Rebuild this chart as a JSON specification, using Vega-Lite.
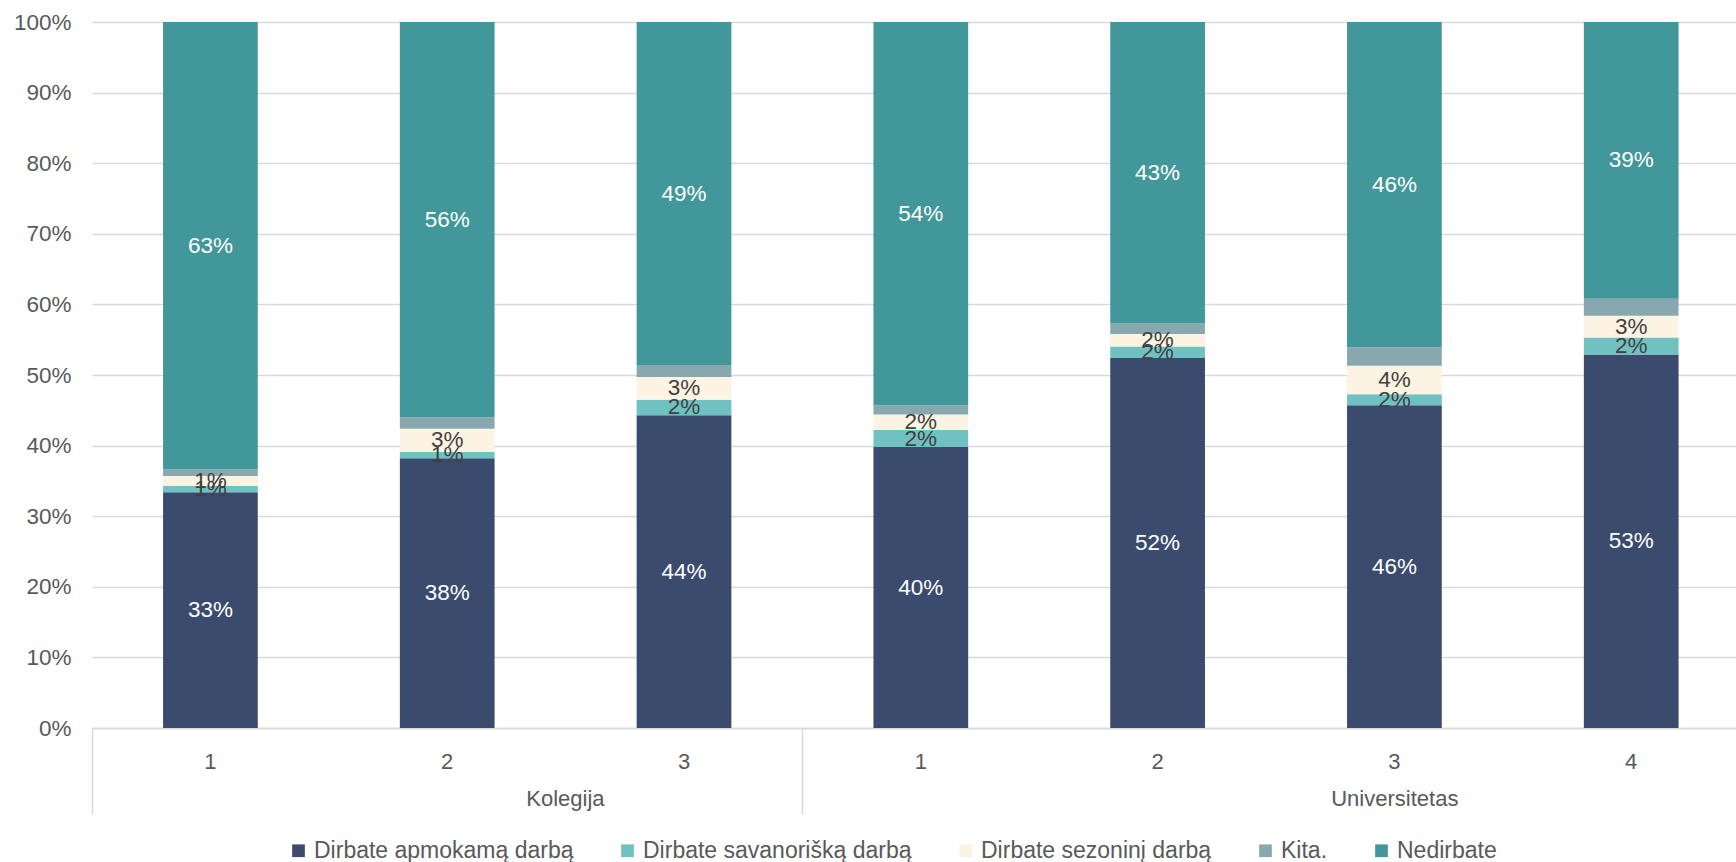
{
  "$schema": "https://vega.github.io/schema/vega-lite/v6.json",
  "width": 1644,
  "height": 706,
  "autosize": {"type": "none"},
  "padding": {"left": 92, "top": 22, "right": 0, "bottom": 134},
  "background": "white",
  "config": {
    "view": {"stroke": null},
    "font": "Liberation Sans",
    "text": {"font": "Liberation Sans"}
  },
  "data": {
    "values": [
      {"key": "K1", "group": "Kolegija", "series": "Dirbate apmokamą darbą", "i": 1, "value": 0.334},
      {"key": "K1", "group": "Kolegija", "series": "Dirbate savanorišką darbą", "i": 2, "value": 0.0093},
      {"key": "K1", "group": "Kolegija", "series": "Dirbate sezoninį darbą", "i": 3, "value": 0.0137},
      {"key": "K1", "group": "Kolegija", "series": "Kita.", "i": 4, "value": 0.0095},
      {"key": "K1", "group": "Kolegija", "series": "Nedirbate", "i": 5, "value": 0.6335},
      {"key": "K2", "group": "Kolegija", "series": "Dirbate apmokamą darbą", "i": 1, "value": 0.382},
      {"key": "K2", "group": "Kolegija", "series": "Dirbate savanorišką darbą", "i": 2, "value": 0.009},
      {"key": "K2", "group": "Kolegija", "series": "Dirbate sezoninį darbą", "i": 3, "value": 0.033},
      {"key": "K2", "group": "Kolegija", "series": "Kita.", "i": 4, "value": 0.016},
      {"key": "K2", "group": "Kolegija", "series": "Nedirbate", "i": 5, "value": 0.56},
      {"key": "K3", "group": "Kolegija", "series": "Dirbate apmokamą darbą", "i": 1, "value": 0.443},
      {"key": "K3", "group": "Kolegija", "series": "Dirbate savanorišką darbą", "i": 2, "value": 0.022},
      {"key": "K3", "group": "Kolegija", "series": "Dirbate sezoninį darbą", "i": 3, "value": 0.032},
      {"key": "K3", "group": "Kolegija", "series": "Kita.", "i": 4, "value": 0.017},
      {"key": "K3", "group": "Kolegija", "series": "Nedirbate", "i": 5, "value": 0.486},
      {"key": "U1", "group": "Universitetas", "series": "Dirbate apmokamą darbą", "i": 1, "value": 0.398},
      {"key": "U1", "group": "Universitetas", "series": "Dirbate savanorišką darbą", "i": 2, "value": 0.024},
      {"key": "U1", "group": "Universitetas", "series": "Dirbate sezoninį darbą", "i": 3, "value": 0.022},
      {"key": "U1", "group": "Universitetas", "series": "Kita.", "i": 4, "value": 0.013},
      {"key": "U1", "group": "Universitetas", "series": "Nedirbate", "i": 5, "value": 0.543},
      {"key": "U2", "group": "Universitetas", "series": "Dirbate apmokamą darbą", "i": 1, "value": 0.524},
      {"key": "U2", "group": "Universitetas", "series": "Dirbate savanorišką darbą", "i": 2, "value": 0.0165},
      {"key": "U2", "group": "Universitetas", "series": "Dirbate sezoninį darbą", "i": 3, "value": 0.0174},
      {"key": "U2", "group": "Universitetas", "series": "Kita.", "i": 4, "value": 0.0151},
      {"key": "U2", "group": "Universitetas", "series": "Nedirbate", "i": 5, "value": 0.427},
      {"key": "U3", "group": "Universitetas", "series": "Dirbate apmokamą darbą", "i": 1, "value": 0.457},
      {"key": "U3", "group": "Universitetas", "series": "Dirbate savanorišką darbą", "i": 2, "value": 0.0156},
      {"key": "U3", "group": "Universitetas", "series": "Dirbate sezoninį darbą", "i": 3, "value": 0.0406},
      {"key": "U3", "group": "Universitetas", "series": "Kita.", "i": 4, "value": 0.026},
      {"key": "U3", "group": "Universitetas", "series": "Nedirbate", "i": 5, "value": 0.4608},
      {"key": "U4", "group": "Universitetas", "series": "Dirbate apmokamą darbą", "i": 1, "value": 0.529},
      {"key": "U4", "group": "Universitetas", "series": "Dirbate savanorišką darbą", "i": 2, "value": 0.024},
      {"key": "U4", "group": "Universitetas", "series": "Dirbate sezoninį darbą", "i": 3, "value": 0.031},
      {"key": "U4", "group": "Universitetas", "series": "Kita.", "i": 4, "value": 0.024},
      {"key": "U4", "group": "Universitetas", "series": "Nedirbate", "i": 5, "value": 0.392}
    ]
  },
  "layer": [
    {
      "mark": {"type": "bar"},
      "encoding": {
        "x": {
          "field": "key",
          "type": "nominal",
          "sort": null,
          "scale": {"paddingInner": 0.6, "paddingOuter": 0.2713, "align": 0.553},
          "axis": {
            "orient": "bottom",
            "title": null,
            "labelExpr": "substring(datum.value, 1)",
            "labelAngle": 0,
            "ticks": false,
            "labelPadding": 23,
            "labelFontSize": 22,
            "labelColor": "#595959",
            "labelFont": "Liberation Sans",
            "domain": true,
            "domainColor": "#D9D9D9",
            "domainWidth": 1.5,
            "grid": false
          }
        },
        "y": {
          "field": "value",
          "type": "quantitative",
          "stack": "normalize",
          "scale": {"domain": [0, 1]},
          "axis": {
            "title": null,
            "format": ".0%",
            "values": [0, 0.1, 0.2, 0.3, 0.4, 0.5, 0.6, 0.7, 0.8, 0.9, 1],
            "domain": false,
            "ticks": false,
            "labelPadding": 21,
            "labelFontSize": 22.5,
            "labelColor": "#595959",
            "labelFont": "Liberation Sans",
            "grid": true,
            "gridColor": "#D9D9D9",
            "gridWidth": 1.5
          }
        },
        "color": {
          "field": "series",
          "type": "nominal",
          "sort": ["Dirbate apmokamą darbą", "Dirbate savanorišką darbą", "Dirbate sezoninį darbą", "Kita.", "Nedirbate"],
          "scale": {
            "domain": ["Dirbate apmokamą darbą", "Dirbate savanorišką darbą", "Dirbate sezoninį darbą", "Kita.", "Nedirbate"],
            "range": ["#3A4B6E", "#70C2C2", "#FDF3E3", "#88A8B0", "#42979A"]
          },
          "legend": {
            "title": null,
            "orient": "none",
            "direction": "horizontal",
            "legendX": 195,
            "legendY": 817,
            "symbolType": "square",
            "symbolSize": 161,
            "symbolStrokeWidth": 0,
            "labelFontSize": 23,
            "labelColor": "#595959",
            "labelFont": "Liberation Sans",
            "labelOffset": 4,
            "columnPadding": 42,
            "labelLimit": 0
          }
        },
        "order": {"field": "i", "type": "quantitative", "sort": "ascending"}
      }
    },
    {
      "mark": {"type": "text", "align": "center", "baseline": "middle", "fontSize": 22.5, "font": "Liberation Sans"},
      "encoding": {
        "x": {
          "field": "key",
          "type": "nominal",
          "sort": null,
          "axis": {
            "orient": "bottom",
            "title": null,
            "bandPosition": -0.75,
            "tickExtra": false,
            "labelAngle": 0,
            "labelExpr": "datum.value == 'K1' ? 'Kolegija' : datum.value == 'U1' ? 'Universitetas' : ''",
            "labelOffset": {"condition": {"test": "datum.value == 'K1'", "value": 355}, "value": 474},
            "labelAlign": "center",
            "labelPadding": -26,
            "labelFontSize": 22,
            "labelColor": "#595959",
            "labelFont": "Liberation Sans",
            "domain": false,
            "grid": false,
            "ticks": true,
            "tickSize": 86,
            "tickWidth": 1.5,
            "tickColor": "#D9D9D9",
            "tickOpacity": {"condition": {"test": "datum.value == 'K1' || datum.value == 'U1'", "value": 1}, "value": 0}
          }
        },
        "y": {
          "field": "value",
          "type": "quantitative",
          "stack": "normalize",
          "bandPosition": 0.5
        },
        "order": {"field": "i", "type": "quantitative", "sort": "ascending"},
        "text": {
          "condition": {"test": "datum.series == 'Kita.'", "value": ""},
          "field": "value",
          "type": "quantitative",
          "format": ".0%"
        },
        "color": {
          "condition": {"test": "datum.series == 'Dirbate apmokamą darbą' || datum.series == 'Nedirbate'", "value": "#FFFFFF"},
          "value": "#404040"
        }
      }
    }
  ],
  "resolve": {"axis": {"x": "independent"}}
}
